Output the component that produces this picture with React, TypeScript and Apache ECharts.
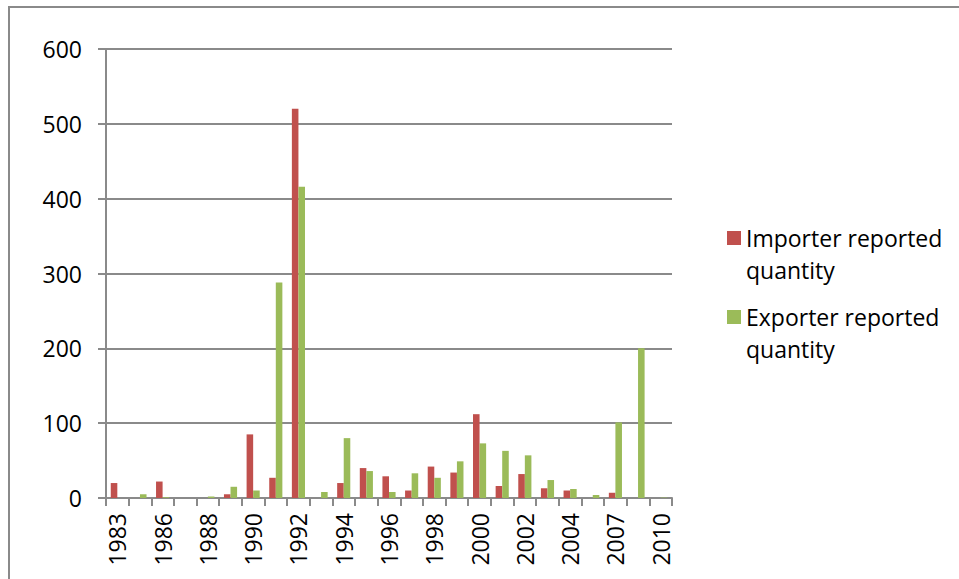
import React, { useEffect, useRef } from "react";
import * as echarts from "echarts";

const years = [
  "1983", "1985", "1986", "1987", "1988", "1989", "1990", "1991", "1992", "1993",
  "1994", "1995", "1996", "1997", "1998", "1999", "2000", "2001", "2002", "2003",
  "2004", "2006", "2007", "2009", "2010",
];
const importerQty = [
  20, 0, 22, 0, 0, 5, 85, 27, 520, 0,
  20, 40, 29, 10, 42, 34, 112, 16, 32, 13,
  10, 0, 7, 0, 0,
];
const exporterQty = [
  0, 5, 1, 0, 2, 15, 10, 288, 416, 8,
  80, 36, 8, 33, 27, 49, 73, 63, 57, 24,
  12, 4, 101, 200, 0.5,
];
const seriesNames = ["Importer reported\nquantity", "Exporter reported\nquantity"];
const yTicks = { min: 0, max: 600, interval: 100 };

const FONT = "'Open Sans', 'Liberation Sans', sans-serif";
const GRAY = "#8a8a8a";

export default function App() {
  const ref = useRef<HTMLDivElement>(null);
  useEffect(() => {
    if (!ref.current) return;
    const chart = echarts.init(ref.current, undefined, { renderer: "svg" });
    chart.setOption({
      animation: false,
      backgroundColor: "#ffffff",
      graphic: [
        {
          type: "rect",
          shape: { x: 9, y: 7, width: 1000, height: 640 },
          style: { fill: "none", stroke: GRAY, lineWidth: 2 },
          silent: true,
        },
      ],
      grid: { left: 106, right: 287, top: 49, bottom: 81, containLabel: false },
      legend: {
        orient: "vertical",
        left: 722,
        top: 217,
        itemGap: 15,
        itemWidth: 14,
        itemHeight: 46,
        icon: "path://M0,0h14v14h-14z M7,45.99h0.01v0.01h-0.01z",
        textStyle: { fontFamily: FONT, fontSize: 23, color: "#000", lineHeight: 32 },
        data: seriesNames,
      },
      xAxis: {
        type: "category",
        data: years,
        boundaryGap: true,
        axisLine: { show: true, lineStyle: { color: GRAY, width: 2 } },
        axisTick: { show: true, interval: 0, length: 8, lineStyle: { color: GRAY, width: 2 } },
        axisLabel: {
          interval: 1,
          rotate: 90,
          margin: 15,
          fontFamily: FONT,
          fontSize: 23,
          color: "#000",
        },
        splitLine: { show: false },
      },
      yAxis: {
        type: "value",
        min: yTicks.min,
        max: yTicks.max,
        interval: yTicks.interval,
        axisLine: { show: true, lineStyle: { color: GRAY, width: 2 } },
        axisTick: { show: true, length: 8, lineStyle: { color: GRAY, width: 2 } },
        axisLabel: { margin: 24, fontFamily: FONT, fontSize: 23, color: "#000" },
        splitLine: { show: true, lineStyle: { color: GRAY, width: 2 } },
      },
      series: [
        {
          name: seriesNames[0],
          type: "bar",
          data: importerQty,
          itemStyle: { color: "#C0504D" },
          barGap: "0%",
          barCategoryGap: "42%",
        },
        {
          name: seriesNames[1],
          type: "bar",
          data: exporterQty,
          itemStyle: { color: "#9BBB59" },
          barGap: "0%",
          barCategoryGap: "42%",
        },
      ],
    });
    return () => chart.dispose();
  }, []);
  return <div ref={ref} style={{ width: 959, height: 579, position: "absolute", left: 0, top: 0 }} />;
}
